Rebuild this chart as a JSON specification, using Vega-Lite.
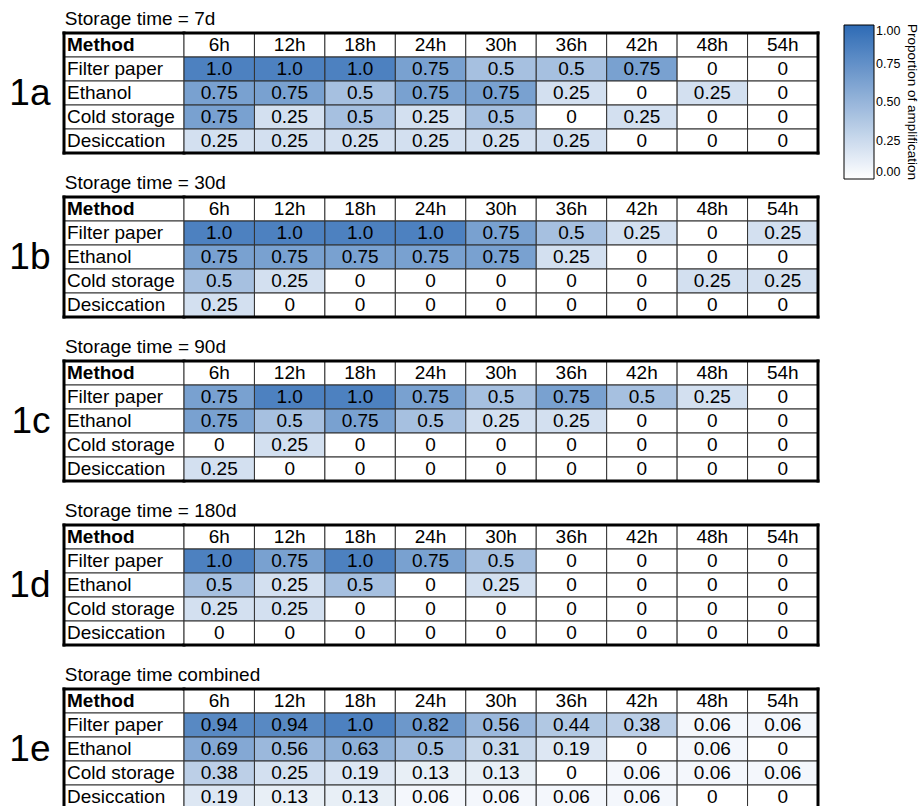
{
  "$schema": "https://vega.github.io/schema/vega-lite/v6.json",
  "background": "white",
  "padding": {"left": 8, "top": 9, "right": 0, "bottom": 0},
  "spacing": 17,
  "datasets": {
    "rowlabels": [{"name": "Method"}, {"name": "Filter paper"}, {"name": "Ethanol"}, {"name": "Cold storage"}, {"name": "Desiccation"}],
    "hours": [{"hour": "6h"}, {"hour": "12h"}, {"hour": "18h"}, {"hour": "24h"}, {"hour": "30h"}, {"hour": "36h"}, {"hour": "42h"}, {"hour": "48h"}, {"hour": "54h"}],
    "one": [{"n": 1}],
    "cells": [
      {"storage": "7d", "method": "Filter paper", "hour": "6h", "value": 1, "label": "1.0"},
      {"storage": "7d", "method": "Filter paper", "hour": "12h", "value": 1, "label": "1.0"},
      {"storage": "7d", "method": "Filter paper", "hour": "18h", "value": 1, "label": "1.0"},
      {"storage": "7d", "method": "Filter paper", "hour": "24h", "value": 0.75, "label": "0.75"},
      {"storage": "7d", "method": "Filter paper", "hour": "30h", "value": 0.5, "label": "0.5"},
      {"storage": "7d", "method": "Filter paper", "hour": "36h", "value": 0.5, "label": "0.5"},
      {"storage": "7d", "method": "Filter paper", "hour": "42h", "value": 0.75, "label": "0.75"},
      {"storage": "7d", "method": "Filter paper", "hour": "48h", "value": 0, "label": "0"},
      {"storage": "7d", "method": "Filter paper", "hour": "54h", "value": 0, "label": "0"},
      {"storage": "7d", "method": "Ethanol", "hour": "6h", "value": 0.75, "label": "0.75"},
      {"storage": "7d", "method": "Ethanol", "hour": "12h", "value": 0.75, "label": "0.75"},
      {"storage": "7d", "method": "Ethanol", "hour": "18h", "value": 0.5, "label": "0.5"},
      {"storage": "7d", "method": "Ethanol", "hour": "24h", "value": 0.75, "label": "0.75"},
      {"storage": "7d", "method": "Ethanol", "hour": "30h", "value": 0.75, "label": "0.75"},
      {"storage": "7d", "method": "Ethanol", "hour": "36h", "value": 0.25, "label": "0.25"},
      {"storage": "7d", "method": "Ethanol", "hour": "42h", "value": 0, "label": "0"},
      {"storage": "7d", "method": "Ethanol", "hour": "48h", "value": 0.25, "label": "0.25"},
      {"storage": "7d", "method": "Ethanol", "hour": "54h", "value": 0, "label": "0"},
      {"storage": "7d", "method": "Cold storage", "hour": "6h", "value": 0.75, "label": "0.75"},
      {"storage": "7d", "method": "Cold storage", "hour": "12h", "value": 0.25, "label": "0.25"},
      {"storage": "7d", "method": "Cold storage", "hour": "18h", "value": 0.5, "label": "0.5"},
      {"storage": "7d", "method": "Cold storage", "hour": "24h", "value": 0.25, "label": "0.25"},
      {"storage": "7d", "method": "Cold storage", "hour": "30h", "value": 0.5, "label": "0.5"},
      {"storage": "7d", "method": "Cold storage", "hour": "36h", "value": 0, "label": "0"},
      {"storage": "7d", "method": "Cold storage", "hour": "42h", "value": 0.25, "label": "0.25"},
      {"storage": "7d", "method": "Cold storage", "hour": "48h", "value": 0, "label": "0"},
      {"storage": "7d", "method": "Cold storage", "hour": "54h", "value": 0, "label": "0"},
      {"storage": "7d", "method": "Desiccation", "hour": "6h", "value": 0.25, "label": "0.25"},
      {"storage": "7d", "method": "Desiccation", "hour": "12h", "value": 0.25, "label": "0.25"},
      {"storage": "7d", "method": "Desiccation", "hour": "18h", "value": 0.25, "label": "0.25"},
      {"storage": "7d", "method": "Desiccation", "hour": "24h", "value": 0.25, "label": "0.25"},
      {"storage": "7d", "method": "Desiccation", "hour": "30h", "value": 0.25, "label": "0.25"},
      {"storage": "7d", "method": "Desiccation", "hour": "36h", "value": 0.25, "label": "0.25"},
      {"storage": "7d", "method": "Desiccation", "hour": "42h", "value": 0, "label": "0"},
      {"storage": "7d", "method": "Desiccation", "hour": "48h", "value": 0, "label": "0"},
      {"storage": "7d", "method": "Desiccation", "hour": "54h", "value": 0, "label": "0"},

      {"storage": "30d", "method": "Filter paper", "hour": "6h", "value": 1, "label": "1.0"},
      {"storage": "30d", "method": "Filter paper", "hour": "12h", "value": 1, "label": "1.0"},
      {"storage": "30d", "method": "Filter paper", "hour": "18h", "value": 1, "label": "1.0"},
      {"storage": "30d", "method": "Filter paper", "hour": "24h", "value": 1, "label": "1.0"},
      {"storage": "30d", "method": "Filter paper", "hour": "30h", "value": 0.75, "label": "0.75"},
      {"storage": "30d", "method": "Filter paper", "hour": "36h", "value": 0.5, "label": "0.5"},
      {"storage": "30d", "method": "Filter paper", "hour": "42h", "value": 0.25, "label": "0.25"},
      {"storage": "30d", "method": "Filter paper", "hour": "48h", "value": 0, "label": "0"},
      {"storage": "30d", "method": "Filter paper", "hour": "54h", "value": 0.25, "label": "0.25"},
      {"storage": "30d", "method": "Ethanol", "hour": "6h", "value": 0.75, "label": "0.75"},
      {"storage": "30d", "method": "Ethanol", "hour": "12h", "value": 0.75, "label": "0.75"},
      {"storage": "30d", "method": "Ethanol", "hour": "18h", "value": 0.75, "label": "0.75"},
      {"storage": "30d", "method": "Ethanol", "hour": "24h", "value": 0.75, "label": "0.75"},
      {"storage": "30d", "method": "Ethanol", "hour": "30h", "value": 0.75, "label": "0.75"},
      {"storage": "30d", "method": "Ethanol", "hour": "36h", "value": 0.25, "label": "0.25"},
      {"storage": "30d", "method": "Ethanol", "hour": "42h", "value": 0, "label": "0"},
      {"storage": "30d", "method": "Ethanol", "hour": "48h", "value": 0, "label": "0"},
      {"storage": "30d", "method": "Ethanol", "hour": "54h", "value": 0, "label": "0"},
      {"storage": "30d", "method": "Cold storage", "hour": "6h", "value": 0.5, "label": "0.5"},
      {"storage": "30d", "method": "Cold storage", "hour": "12h", "value": 0.25, "label": "0.25"},
      {"storage": "30d", "method": "Cold storage", "hour": "18h", "value": 0, "label": "0"},
      {"storage": "30d", "method": "Cold storage", "hour": "24h", "value": 0, "label": "0"},
      {"storage": "30d", "method": "Cold storage", "hour": "30h", "value": 0, "label": "0"},
      {"storage": "30d", "method": "Cold storage", "hour": "36h", "value": 0, "label": "0"},
      {"storage": "30d", "method": "Cold storage", "hour": "42h", "value": 0, "label": "0"},
      {"storage": "30d", "method": "Cold storage", "hour": "48h", "value": 0.25, "label": "0.25"},
      {"storage": "30d", "method": "Cold storage", "hour": "54h", "value": 0.25, "label": "0.25"},
      {"storage": "30d", "method": "Desiccation", "hour": "6h", "value": 0.25, "label": "0.25"},
      {"storage": "30d", "method": "Desiccation", "hour": "12h", "value": 0, "label": "0"},
      {"storage": "30d", "method": "Desiccation", "hour": "18h", "value": 0, "label": "0"},
      {"storage": "30d", "method": "Desiccation", "hour": "24h", "value": 0, "label": "0"},
      {"storage": "30d", "method": "Desiccation", "hour": "30h", "value": 0, "label": "0"},
      {"storage": "30d", "method": "Desiccation", "hour": "36h", "value": 0, "label": "0"},
      {"storage": "30d", "method": "Desiccation", "hour": "42h", "value": 0, "label": "0"},
      {"storage": "30d", "method": "Desiccation", "hour": "48h", "value": 0, "label": "0"},
      {"storage": "30d", "method": "Desiccation", "hour": "54h", "value": 0, "label": "0"},

      {"storage": "90d", "method": "Filter paper", "hour": "6h", "value": 0.75, "label": "0.75"},
      {"storage": "90d", "method": "Filter paper", "hour": "12h", "value": 1, "label": "1.0"},
      {"storage": "90d", "method": "Filter paper", "hour": "18h", "value": 1, "label": "1.0"},
      {"storage": "90d", "method": "Filter paper", "hour": "24h", "value": 0.75, "label": "0.75"},
      {"storage": "90d", "method": "Filter paper", "hour": "30h", "value": 0.5, "label": "0.5"},
      {"storage": "90d", "method": "Filter paper", "hour": "36h", "value": 0.75, "label": "0.75"},
      {"storage": "90d", "method": "Filter paper", "hour": "42h", "value": 0.5, "label": "0.5"},
      {"storage": "90d", "method": "Filter paper", "hour": "48h", "value": 0.25, "label": "0.25"},
      {"storage": "90d", "method": "Filter paper", "hour": "54h", "value": 0, "label": "0"},
      {"storage": "90d", "method": "Ethanol", "hour": "6h", "value": 0.75, "label": "0.75"},
      {"storage": "90d", "method": "Ethanol", "hour": "12h", "value": 0.5, "label": "0.5"},
      {"storage": "90d", "method": "Ethanol", "hour": "18h", "value": 0.75, "label": "0.75"},
      {"storage": "90d", "method": "Ethanol", "hour": "24h", "value": 0.5, "label": "0.5"},
      {"storage": "90d", "method": "Ethanol", "hour": "30h", "value": 0.25, "label": "0.25"},
      {"storage": "90d", "method": "Ethanol", "hour": "36h", "value": 0.25, "label": "0.25"},
      {"storage": "90d", "method": "Ethanol", "hour": "42h", "value": 0, "label": "0"},
      {"storage": "90d", "method": "Ethanol", "hour": "48h", "value": 0, "label": "0"},
      {"storage": "90d", "method": "Ethanol", "hour": "54h", "value": 0, "label": "0"},
      {"storage": "90d", "method": "Cold storage", "hour": "6h", "value": 0, "label": "0"},
      {"storage": "90d", "method": "Cold storage", "hour": "12h", "value": 0.25, "label": "0.25"},
      {"storage": "90d", "method": "Cold storage", "hour": "18h", "value": 0, "label": "0"},
      {"storage": "90d", "method": "Cold storage", "hour": "24h", "value": 0, "label": "0"},
      {"storage": "90d", "method": "Cold storage", "hour": "30h", "value": 0, "label": "0"},
      {"storage": "90d", "method": "Cold storage", "hour": "36h", "value": 0, "label": "0"},
      {"storage": "90d", "method": "Cold storage", "hour": "42h", "value": 0, "label": "0"},
      {"storage": "90d", "method": "Cold storage", "hour": "48h", "value": 0, "label": "0"},
      {"storage": "90d", "method": "Cold storage", "hour": "54h", "value": 0, "label": "0"},
      {"storage": "90d", "method": "Desiccation", "hour": "6h", "value": 0.25, "label": "0.25"},
      {"storage": "90d", "method": "Desiccation", "hour": "12h", "value": 0, "label": "0"},
      {"storage": "90d", "method": "Desiccation", "hour": "18h", "value": 0, "label": "0"},
      {"storage": "90d", "method": "Desiccation", "hour": "24h", "value": 0, "label": "0"},
      {"storage": "90d", "method": "Desiccation", "hour": "30h", "value": 0, "label": "0"},
      {"storage": "90d", "method": "Desiccation", "hour": "36h", "value": 0, "label": "0"},
      {"storage": "90d", "method": "Desiccation", "hour": "42h", "value": 0, "label": "0"},
      {"storage": "90d", "method": "Desiccation", "hour": "48h", "value": 0, "label": "0"},
      {"storage": "90d", "method": "Desiccation", "hour": "54h", "value": 0, "label": "0"},

      {"storage": "180d", "method": "Filter paper", "hour": "6h", "value": 1, "label": "1.0"},
      {"storage": "180d", "method": "Filter paper", "hour": "12h", "value": 0.75, "label": "0.75"},
      {"storage": "180d", "method": "Filter paper", "hour": "18h", "value": 1, "label": "1.0"},
      {"storage": "180d", "method": "Filter paper", "hour": "24h", "value": 0.75, "label": "0.75"},
      {"storage": "180d", "method": "Filter paper", "hour": "30h", "value": 0.5, "label": "0.5"},
      {"storage": "180d", "method": "Filter paper", "hour": "36h", "value": 0, "label": "0"},
      {"storage": "180d", "method": "Filter paper", "hour": "42h", "value": 0, "label": "0"},
      {"storage": "180d", "method": "Filter paper", "hour": "48h", "value": 0, "label": "0"},
      {"storage": "180d", "method": "Filter paper", "hour": "54h", "value": 0, "label": "0"},
      {"storage": "180d", "method": "Ethanol", "hour": "6h", "value": 0.5, "label": "0.5"},
      {"storage": "180d", "method": "Ethanol", "hour": "12h", "value": 0.25, "label": "0.25"},
      {"storage": "180d", "method": "Ethanol", "hour": "18h", "value": 0.5, "label": "0.5"},
      {"storage": "180d", "method": "Ethanol", "hour": "24h", "value": 0, "label": "0"},
      {"storage": "180d", "method": "Ethanol", "hour": "30h", "value": 0.25, "label": "0.25"},
      {"storage": "180d", "method": "Ethanol", "hour": "36h", "value": 0, "label": "0"},
      {"storage": "180d", "method": "Ethanol", "hour": "42h", "value": 0, "label": "0"},
      {"storage": "180d", "method": "Ethanol", "hour": "48h", "value": 0, "label": "0"},
      {"storage": "180d", "method": "Ethanol", "hour": "54h", "value": 0, "label": "0"},
      {"storage": "180d", "method": "Cold storage", "hour": "6h", "value": 0.25, "label": "0.25"},
      {"storage": "180d", "method": "Cold storage", "hour": "12h", "value": 0.25, "label": "0.25"},
      {"storage": "180d", "method": "Cold storage", "hour": "18h", "value": 0, "label": "0"},
      {"storage": "180d", "method": "Cold storage", "hour": "24h", "value": 0, "label": "0"},
      {"storage": "180d", "method": "Cold storage", "hour": "30h", "value": 0, "label": "0"},
      {"storage": "180d", "method": "Cold storage", "hour": "36h", "value": 0, "label": "0"},
      {"storage": "180d", "method": "Cold storage", "hour": "42h", "value": 0, "label": "0"},
      {"storage": "180d", "method": "Cold storage", "hour": "48h", "value": 0, "label": "0"},
      {"storage": "180d", "method": "Cold storage", "hour": "54h", "value": 0, "label": "0"},
      {"storage": "180d", "method": "Desiccation", "hour": "6h", "value": 0, "label": "0"},
      {"storage": "180d", "method": "Desiccation", "hour": "12h", "value": 0, "label": "0"},
      {"storage": "180d", "method": "Desiccation", "hour": "18h", "value": 0, "label": "0"},
      {"storage": "180d", "method": "Desiccation", "hour": "24h", "value": 0, "label": "0"},
      {"storage": "180d", "method": "Desiccation", "hour": "30h", "value": 0, "label": "0"},
      {"storage": "180d", "method": "Desiccation", "hour": "36h", "value": 0, "label": "0"},
      {"storage": "180d", "method": "Desiccation", "hour": "42h", "value": 0, "label": "0"},
      {"storage": "180d", "method": "Desiccation", "hour": "48h", "value": 0, "label": "0"},
      {"storage": "180d", "method": "Desiccation", "hour": "54h", "value": 0, "label": "0"},

      {"storage": "combined", "method": "Filter paper", "hour": "6h", "value": 0.94, "label": "0.94"},
      {"storage": "combined", "method": "Filter paper", "hour": "12h", "value": 0.94, "label": "0.94"},
      {"storage": "combined", "method": "Filter paper", "hour": "18h", "value": 1, "label": "1.0"},
      {"storage": "combined", "method": "Filter paper", "hour": "24h", "value": 0.82, "label": "0.82"},
      {"storage": "combined", "method": "Filter paper", "hour": "30h", "value": 0.56, "label": "0.56"},
      {"storage": "combined", "method": "Filter paper", "hour": "36h", "value": 0.44, "label": "0.44"},
      {"storage": "combined", "method": "Filter paper", "hour": "42h", "value": 0.38, "label": "0.38"},
      {"storage": "combined", "method": "Filter paper", "hour": "48h", "value": 0.06, "label": "0.06"},
      {"storage": "combined", "method": "Filter paper", "hour": "54h", "value": 0.06, "label": "0.06"},
      {"storage": "combined", "method": "Ethanol", "hour": "6h", "value": 0.69, "label": "0.69"},
      {"storage": "combined", "method": "Ethanol", "hour": "12h", "value": 0.56, "label": "0.56"},
      {"storage": "combined", "method": "Ethanol", "hour": "18h", "value": 0.63, "label": "0.63"},
      {"storage": "combined", "method": "Ethanol", "hour": "24h", "value": 0.5, "label": "0.5"},
      {"storage": "combined", "method": "Ethanol", "hour": "30h", "value": 0.31, "label": "0.31"},
      {"storage": "combined", "method": "Ethanol", "hour": "36h", "value": 0.19, "label": "0.19"},
      {"storage": "combined", "method": "Ethanol", "hour": "42h", "value": 0, "label": "0"},
      {"storage": "combined", "method": "Ethanol", "hour": "48h", "value": 0.06, "label": "0.06"},
      {"storage": "combined", "method": "Ethanol", "hour": "54h", "value": 0, "label": "0"},
      {"storage": "combined", "method": "Cold storage", "hour": "6h", "value": 0.38, "label": "0.38"},
      {"storage": "combined", "method": "Cold storage", "hour": "12h", "value": 0.25, "label": "0.25"},
      {"storage": "combined", "method": "Cold storage", "hour": "18h", "value": 0.19, "label": "0.19"},
      {"storage": "combined", "method": "Cold storage", "hour": "24h", "value": 0.13, "label": "0.13"},
      {"storage": "combined", "method": "Cold storage", "hour": "30h", "value": 0.13, "label": "0.13"},
      {"storage": "combined", "method": "Cold storage", "hour": "36h", "value": 0, "label": "0"},
      {"storage": "combined", "method": "Cold storage", "hour": "42h", "value": 0.06, "label": "0.06"},
      {"storage": "combined", "method": "Cold storage", "hour": "48h", "value": 0.06, "label": "0.06"},
      {"storage": "combined", "method": "Cold storage", "hour": "54h", "value": 0.06, "label": "0.06"},
      {"storage": "combined", "method": "Desiccation", "hour": "6h", "value": 0.19, "label": "0.19"},
      {"storage": "combined", "method": "Desiccation", "hour": "12h", "value": 0.13, "label": "0.13"},
      {"storage": "combined", "method": "Desiccation", "hour": "18h", "value": 0.13, "label": "0.13"},
      {"storage": "combined", "method": "Desiccation", "hour": "24h", "value": 0.06, "label": "0.06"},
      {"storage": "combined", "method": "Desiccation", "hour": "30h", "value": 0.06, "label": "0.06"},
      {"storage": "combined", "method": "Desiccation", "hour": "36h", "value": 0.06, "label": "0.06"},
      {"storage": "combined", "method": "Desiccation", "hour": "42h", "value": 0.06, "label": "0.06"},
      {"storage": "combined", "method": "Desiccation", "hour": "48h", "value": 0, "label": "0"},
      {"storage": "combined", "method": "Desiccation", "hour": "54h", "value": 0, "label": "0"}
    ]
  },
  "vconcat": [
    {
      "title": {"text": "Storage time = 7d", "anchor": "start", "frame": "bounds", "dx": 56, "offset": 2, "fontSize": 19, "fontWeight": "normal", "font": "Liberation Sans", "color": "black"},
      "spacing": 0,
      "bounds": "flush",
      "hconcat": [
        {
          "width": 120, "height": 120,
          "layer": [
            {"data": {"name": "rowlabels"}, "mark": {"type": "rect", "fill": "white"},
             "encoding": {"x": {"datum": "Method", "type": "nominal", "scale": {"type": "band", "domain": ["Method"], "paddingInner": 0, "paddingOuter": 0}, "axis": null},
                          "y": {"field": "name", "type": "nominal", "scale": {"type": "band", "domain": ["Method", "Filter paper", "Ethanol", "Cold storage", "Desiccation"], "paddingInner": 0, "paddingOuter": 0}, "axis": {"title": "1a"}}}},
            {"data": {"name": "rowlabels"}, "transform": [{"filter": "datum.name === 'Method'"}], "mark": {"type": "text", "align": "left", "dx": 3, "fontWeight": "bold"},
             "encoding": {"x": {"datum": "Method", "type": "nominal", "bandPosition": 0, "scale": {"type": "band", "domain": ["Method"], "paddingInner": 0, "paddingOuter": 0}, "axis": null},
                          "y": {"field": "name", "type": "nominal", "scale": {"type": "band", "domain": ["Method", "Filter paper", "Ethanol", "Cold storage", "Desiccation"], "paddingInner": 0, "paddingOuter": 0}, "axis": {"title": "1a"}},
                          "text": {"field": "name"}}},
            {"data": {"name": "rowlabels"}, "transform": [{"filter": "datum.name !== 'Method'"}], "mark": {"type": "text", "align": "left", "dx": 3},
             "encoding": {"x": {"datum": "Method", "type": "nominal", "bandPosition": 0, "scale": {"type": "band", "domain": ["Method"], "paddingInner": 0, "paddingOuter": 0}, "axis": null},
                          "y": {"field": "name", "type": "nominal", "scale": {"type": "band", "domain": ["Method", "Filter paper", "Ethanol", "Cold storage", "Desiccation"], "paddingInner": 0, "paddingOuter": 0}, "axis": {"title": "1a"}},
                          "text": {"field": "name"}}},
            {"data": {"name": "one"}, "mark": "rule", "encoding": {"y": {"datum": "Method", "type": "nominal", "bandPosition": 0, "scale": {"type": "band", "domain": ["Method", "Filter paper", "Ethanol", "Cold storage", "Desiccation"], "paddingInner": 0, "paddingOuter": 0}, "axis": {"title": "1a"}}}},
            {"data": {"name": "one"}, "mark": "rule", "encoding": {"y": {"datum": "Desiccation", "type": "nominal", "bandPosition": 1, "scale": {"type": "band", "domain": ["Method", "Filter paper", "Ethanol", "Cold storage", "Desiccation"], "paddingInner": 0, "paddingOuter": 0}, "axis": {"title": "1a"}}}},
            {"data": {"name": "one"}, "mark": "rule", "encoding": {"x": {"datum": "Method", "type": "nominal", "bandPosition": 0, "scale": {"type": "band", "domain": ["Method"], "paddingInner": 0, "paddingOuter": 0}, "axis": null}}}
          ]
        },
        {
          "width": 634, "height": 120,
          "layer": [
            {"data": {"name": "hours"}, "mark": {"type": "rect", "fill": "white"},
             "encoding": {"x": {"field": "hour", "type": "nominal", "scale": {"type": "band", "domain": ["6h", "12h", "18h", "24h", "30h", "36h", "42h", "48h", "54h"], "paddingInner": 0, "paddingOuter": 0}, "axis": null},
                          "y": {"datum": "Method", "type": "nominal", "scale": {"type": "band", "domain": ["Method", "Filter paper", "Ethanol", "Cold storage", "Desiccation"], "paddingInner": 0, "paddingOuter": 0}, "axis": null}}},
            {"data": {"name": "hours"}, "mark": {"type": "text"},
             "encoding": {"x": {"field": "hour", "type": "nominal", "scale": {"type": "band", "domain": ["6h", "12h", "18h", "24h", "30h", "36h", "42h", "48h", "54h"], "paddingInner": 0, "paddingOuter": 0}, "axis": null},
                          "y": {"datum": "Method", "type": "nominal", "scale": {"type": "band", "domain": ["Method", "Filter paper", "Ethanol", "Cold storage", "Desiccation"], "paddingInner": 0, "paddingOuter": 0}, "axis": null},
                          "text": {"field": "hour"}}},
            {"data": {"name": "cells"}, "transform": [{"filter": "datum.storage === '7d'"}], "mark": {"type": "rect", "fillOpacity": 0.85},
             "encoding": {"x": {"field": "hour", "type": "nominal", "scale": {"type": "band", "domain": ["6h", "12h", "18h", "24h", "30h", "36h", "42h", "48h", "54h"], "paddingInner": 0, "paddingOuter": 0}, "axis": null},
                          "y": {"field": "method", "type": "nominal", "scale": {"type": "band", "domain": ["Method", "Filter paper", "Ethanol", "Cold storage", "Desiccation"], "paddingInner": 0, "paddingOuter": 0}, "axis": null},
                          "fill": {"field": "value", "type": "quantitative", "scale": {"domain": [0, 1], "range": ["#ffffff", "#2e6bb5"], "interpolate": "rgb"}, "legend": {"title": "Proportion of amplification", "values": [0, 0.25, 0.5, 0.75, 1], "format": ".2f", "orient": "none", "legendX": 780, "legendY": -8}}}},
            {"data": {"name": "cells"}, "transform": [{"filter": "datum.storage === '7d'"}], "mark": {"type": "text"},
             "encoding": {"x": {"field": "hour", "type": "nominal", "scale": {"type": "band", "domain": ["6h", "12h", "18h", "24h", "30h", "36h", "42h", "48h", "54h"], "paddingInner": 0, "paddingOuter": 0}, "axis": null},
                          "y": {"field": "method", "type": "nominal", "scale": {"type": "band", "domain": ["Method", "Filter paper", "Ethanol", "Cold storage", "Desiccation"], "paddingInner": 0, "paddingOuter": 0}, "axis": null},
                          "text": {"field": "label"}}},
            {"data": {"name": "one"}, "mark": "rule", "encoding": {"y": {"datum": "Method", "type": "nominal", "bandPosition": 0, "scale": {"type": "band", "domain": ["Method", "Filter paper", "Ethanol", "Cold storage", "Desiccation"], "paddingInner": 0, "paddingOuter": 0}, "axis": null}}},
            {"data": {"name": "one"}, "mark": "rule", "encoding": {"y": {"datum": "Desiccation", "type": "nominal", "bandPosition": 1, "scale": {"type": "band", "domain": ["Method", "Filter paper", "Ethanol", "Cold storage", "Desiccation"], "paddingInner": 0, "paddingOuter": 0}, "axis": null}}},
            {"data": {"name": "one"}, "mark": "rule", "encoding": {"x": {"datum": "54h", "type": "nominal", "bandPosition": 1, "scale": {"type": "band", "domain": ["6h", "12h", "18h", "24h", "30h", "36h", "42h", "48h", "54h"], "paddingInner": 0, "paddingOuter": 0}, "axis": null}}}
          ]
        }
      ]
    },
    {
      "title": {"text": "Storage time = 30d", "anchor": "start", "frame": "bounds", "dx": 56, "offset": 2, "fontSize": 19, "fontWeight": "normal", "font": "Liberation Sans", "color": "black"},
      "spacing": 0,
      "bounds": "flush",
      "hconcat": [
        {
          "width": 120, "height": 120,
          "layer": [
            {"data": {"name": "rowlabels"}, "mark": {"type": "rect", "fill": "white"},
             "encoding": {"x": {"datum": "Method", "type": "nominal", "scale": {"type": "band", "domain": ["Method"], "paddingInner": 0, "paddingOuter": 0}, "axis": null},
                          "y": {"field": "name", "type": "nominal", "scale": {"type": "band", "domain": ["Method", "Filter paper", "Ethanol", "Cold storage", "Desiccation"], "paddingInner": 0, "paddingOuter": 0}, "axis": {"title": "1b"}}}},
            {"data": {"name": "rowlabels"}, "transform": [{"filter": "datum.name === 'Method'"}], "mark": {"type": "text", "align": "left", "dx": 3, "fontWeight": "bold"},
             "encoding": {"x": {"datum": "Method", "type": "nominal", "bandPosition": 0, "scale": {"type": "band", "domain": ["Method"], "paddingInner": 0, "paddingOuter": 0}, "axis": null},
                          "y": {"field": "name", "type": "nominal", "scale": {"type": "band", "domain": ["Method", "Filter paper", "Ethanol", "Cold storage", "Desiccation"], "paddingInner": 0, "paddingOuter": 0}, "axis": {"title": "1b"}},
                          "text": {"field": "name"}}},
            {"data": {"name": "rowlabels"}, "transform": [{"filter": "datum.name !== 'Method'"}], "mark": {"type": "text", "align": "left", "dx": 3},
             "encoding": {"x": {"datum": "Method", "type": "nominal", "bandPosition": 0, "scale": {"type": "band", "domain": ["Method"], "paddingInner": 0, "paddingOuter": 0}, "axis": null},
                          "y": {"field": "name", "type": "nominal", "scale": {"type": "band", "domain": ["Method", "Filter paper", "Ethanol", "Cold storage", "Desiccation"], "paddingInner": 0, "paddingOuter": 0}, "axis": {"title": "1b"}},
                          "text": {"field": "name"}}},
            {"data": {"name": "one"}, "mark": "rule", "encoding": {"y": {"datum": "Method", "type": "nominal", "bandPosition": 0, "scale": {"type": "band", "domain": ["Method", "Filter paper", "Ethanol", "Cold storage", "Desiccation"], "paddingInner": 0, "paddingOuter": 0}, "axis": {"title": "1b"}}}},
            {"data": {"name": "one"}, "mark": "rule", "encoding": {"y": {"datum": "Desiccation", "type": "nominal", "bandPosition": 1, "scale": {"type": "band", "domain": ["Method", "Filter paper", "Ethanol", "Cold storage", "Desiccation"], "paddingInner": 0, "paddingOuter": 0}, "axis": {"title": "1b"}}}},
            {"data": {"name": "one"}, "mark": "rule", "encoding": {"x": {"datum": "Method", "type": "nominal", "bandPosition": 0, "scale": {"type": "band", "domain": ["Method"], "paddingInner": 0, "paddingOuter": 0}, "axis": null}}}
          ]
        },
        {
          "width": 634, "height": 120,
          "layer": [
            {"data": {"name": "hours"}, "mark": {"type": "rect", "fill": "white"},
             "encoding": {"x": {"field": "hour", "type": "nominal", "scale": {"type": "band", "domain": ["6h", "12h", "18h", "24h", "30h", "36h", "42h", "48h", "54h"], "paddingInner": 0, "paddingOuter": 0}, "axis": null},
                          "y": {"datum": "Method", "type": "nominal", "scale": {"type": "band", "domain": ["Method", "Filter paper", "Ethanol", "Cold storage", "Desiccation"], "paddingInner": 0, "paddingOuter": 0}, "axis": null}}},
            {"data": {"name": "hours"}, "mark": {"type": "text"},
             "encoding": {"x": {"field": "hour", "type": "nominal", "scale": {"type": "band", "domain": ["6h", "12h", "18h", "24h", "30h", "36h", "42h", "48h", "54h"], "paddingInner": 0, "paddingOuter": 0}, "axis": null},
                          "y": {"datum": "Method", "type": "nominal", "scale": {"type": "band", "domain": ["Method", "Filter paper", "Ethanol", "Cold storage", "Desiccation"], "paddingInner": 0, "paddingOuter": 0}, "axis": null},
                          "text": {"field": "hour"}}},
            {"data": {"name": "cells"}, "transform": [{"filter": "datum.storage === '30d'"}], "mark": {"type": "rect", "fillOpacity": 0.85},
             "encoding": {"x": {"field": "hour", "type": "nominal", "scale": {"type": "band", "domain": ["6h", "12h", "18h", "24h", "30h", "36h", "42h", "48h", "54h"], "paddingInner": 0, "paddingOuter": 0}, "axis": null},
                          "y": {"field": "method", "type": "nominal", "scale": {"type": "band", "domain": ["Method", "Filter paper", "Ethanol", "Cold storage", "Desiccation"], "paddingInner": 0, "paddingOuter": 0}, "axis": null},
                          "fill": {"field": "value", "type": "quantitative", "scale": {"domain": [0, 1], "range": ["#ffffff", "#2e6bb5"], "interpolate": "rgb"}, "legend": {"title": "Proportion of amplification", "values": [0, 0.25, 0.5, 0.75, 1], "format": ".2f", "orient": "none", "legendX": 780, "legendY": -8}}}},
            {"data": {"name": "cells"}, "transform": [{"filter": "datum.storage === '30d'"}], "mark": {"type": "text"},
             "encoding": {"x": {"field": "hour", "type": "nominal", "scale": {"type": "band", "domain": ["6h", "12h", "18h", "24h", "30h", "36h", "42h", "48h", "54h"], "paddingInner": 0, "paddingOuter": 0}, "axis": null},
                          "y": {"field": "method", "type": "nominal", "scale": {"type": "band", "domain": ["Method", "Filter paper", "Ethanol", "Cold storage", "Desiccation"], "paddingInner": 0, "paddingOuter": 0}, "axis": null},
                          "text": {"field": "label"}}},
            {"data": {"name": "one"}, "mark": "rule", "encoding": {"y": {"datum": "Method", "type": "nominal", "bandPosition": 0, "scale": {"type": "band", "domain": ["Method", "Filter paper", "Ethanol", "Cold storage", "Desiccation"], "paddingInner": 0, "paddingOuter": 0}, "axis": null}}},
            {"data": {"name": "one"}, "mark": "rule", "encoding": {"y": {"datum": "Desiccation", "type": "nominal", "bandPosition": 1, "scale": {"type": "band", "domain": ["Method", "Filter paper", "Ethanol", "Cold storage", "Desiccation"], "paddingInner": 0, "paddingOuter": 0}, "axis": null}}},
            {"data": {"name": "one"}, "mark": "rule", "encoding": {"x": {"datum": "54h", "type": "nominal", "bandPosition": 1, "scale": {"type": "band", "domain": ["6h", "12h", "18h", "24h", "30h", "36h", "42h", "48h", "54h"], "paddingInner": 0, "paddingOuter": 0}, "axis": null}}}
          ]
        }
      ]
    },
    {
      "title": {"text": "Storage time = 90d", "anchor": "start", "frame": "bounds", "dx": 54, "offset": 2, "fontSize": 19, "fontWeight": "normal", "font": "Liberation Sans", "color": "black"},
      "spacing": 0,
      "bounds": "flush",
      "hconcat": [
        {
          "width": 120, "height": 120,
          "layer": [
            {"data": {"name": "rowlabels"}, "mark": {"type": "rect", "fill": "white"},
             "encoding": {"x": {"datum": "Method", "type": "nominal", "scale": {"type": "band", "domain": ["Method"], "paddingInner": 0, "paddingOuter": 0}, "axis": null},
                          "y": {"field": "name", "type": "nominal", "scale": {"type": "band", "domain": ["Method", "Filter paper", "Ethanol", "Cold storage", "Desiccation"], "paddingInner": 0, "paddingOuter": 0}, "axis": {"title": "1c"}}}},
            {"data": {"name": "rowlabels"}, "transform": [{"filter": "datum.name === 'Method'"}], "mark": {"type": "text", "align": "left", "dx": 3, "fontWeight": "bold"},
             "encoding": {"x": {"datum": "Method", "type": "nominal", "bandPosition": 0, "scale": {"type": "band", "domain": ["Method"], "paddingInner": 0, "paddingOuter": 0}, "axis": null},
                          "y": {"field": "name", "type": "nominal", "scale": {"type": "band", "domain": ["Method", "Filter paper", "Ethanol", "Cold storage", "Desiccation"], "paddingInner": 0, "paddingOuter": 0}, "axis": {"title": "1c"}},
                          "text": {"field": "name"}}},
            {"data": {"name": "rowlabels"}, "transform": [{"filter": "datum.name !== 'Method'"}], "mark": {"type": "text", "align": "left", "dx": 3},
             "encoding": {"x": {"datum": "Method", "type": "nominal", "bandPosition": 0, "scale": {"type": "band", "domain": ["Method"], "paddingInner": 0, "paddingOuter": 0}, "axis": null},
                          "y": {"field": "name", "type": "nominal", "scale": {"type": "band", "domain": ["Method", "Filter paper", "Ethanol", "Cold storage", "Desiccation"], "paddingInner": 0, "paddingOuter": 0}, "axis": {"title": "1c"}},
                          "text": {"field": "name"}}},
            {"data": {"name": "one"}, "mark": "rule", "encoding": {"y": {"datum": "Method", "type": "nominal", "bandPosition": 0, "scale": {"type": "band", "domain": ["Method", "Filter paper", "Ethanol", "Cold storage", "Desiccation"], "paddingInner": 0, "paddingOuter": 0}, "axis": {"title": "1c"}}}},
            {"data": {"name": "one"}, "mark": "rule", "encoding": {"y": {"datum": "Desiccation", "type": "nominal", "bandPosition": 1, "scale": {"type": "band", "domain": ["Method", "Filter paper", "Ethanol", "Cold storage", "Desiccation"], "paddingInner": 0, "paddingOuter": 0}, "axis": {"title": "1c"}}}},
            {"data": {"name": "one"}, "mark": "rule", "encoding": {"x": {"datum": "Method", "type": "nominal", "bandPosition": 0, "scale": {"type": "band", "domain": ["Method"], "paddingInner": 0, "paddingOuter": 0}, "axis": null}}}
          ]
        },
        {
          "width": 634, "height": 120,
          "layer": [
            {"data": {"name": "hours"}, "mark": {"type": "rect", "fill": "white"},
             "encoding": {"x": {"field": "hour", "type": "nominal", "scale": {"type": "band", "domain": ["6h", "12h", "18h", "24h", "30h", "36h", "42h", "48h", "54h"], "paddingInner": 0, "paddingOuter": 0}, "axis": null},
                          "y": {"datum": "Method", "type": "nominal", "scale": {"type": "band", "domain": ["Method", "Filter paper", "Ethanol", "Cold storage", "Desiccation"], "paddingInner": 0, "paddingOuter": 0}, "axis": null}}},
            {"data": {"name": "hours"}, "mark": {"type": "text"},
             "encoding": {"x": {"field": "hour", "type": "nominal", "scale": {"type": "band", "domain": ["6h", "12h", "18h", "24h", "30h", "36h", "42h", "48h", "54h"], "paddingInner": 0, "paddingOuter": 0}, "axis": null},
                          "y": {"datum": "Method", "type": "nominal", "scale": {"type": "band", "domain": ["Method", "Filter paper", "Ethanol", "Cold storage", "Desiccation"], "paddingInner": 0, "paddingOuter": 0}, "axis": null},
                          "text": {"field": "hour"}}},
            {"data": {"name": "cells"}, "transform": [{"filter": "datum.storage === '90d'"}], "mark": {"type": "rect", "fillOpacity": 0.85},
             "encoding": {"x": {"field": "hour", "type": "nominal", "scale": {"type": "band", "domain": ["6h", "12h", "18h", "24h", "30h", "36h", "42h", "48h", "54h"], "paddingInner": 0, "paddingOuter": 0}, "axis": null},
                          "y": {"field": "method", "type": "nominal", "scale": {"type": "band", "domain": ["Method", "Filter paper", "Ethanol", "Cold storage", "Desiccation"], "paddingInner": 0, "paddingOuter": 0}, "axis": null},
                          "fill": {"field": "value", "type": "quantitative", "scale": {"domain": [0, 1], "range": ["#ffffff", "#2e6bb5"], "interpolate": "rgb"}, "legend": {"title": "Proportion of amplification", "values": [0, 0.25, 0.5, 0.75, 1], "format": ".2f", "orient": "none", "legendX": 780, "legendY": -8}}}},
            {"data": {"name": "cells"}, "transform": [{"filter": "datum.storage === '90d'"}], "mark": {"type": "text"},
             "encoding": {"x": {"field": "hour", "type": "nominal", "scale": {"type": "band", "domain": ["6h", "12h", "18h", "24h", "30h", "36h", "42h", "48h", "54h"], "paddingInner": 0, "paddingOuter": 0}, "axis": null},
                          "y": {"field": "method", "type": "nominal", "scale": {"type": "band", "domain": ["Method", "Filter paper", "Ethanol", "Cold storage", "Desiccation"], "paddingInner": 0, "paddingOuter": 0}, "axis": null},
                          "text": {"field": "label"}}},
            {"data": {"name": "one"}, "mark": "rule", "encoding": {"y": {"datum": "Method", "type": "nominal", "bandPosition": 0, "scale": {"type": "band", "domain": ["Method", "Filter paper", "Ethanol", "Cold storage", "Desiccation"], "paddingInner": 0, "paddingOuter": 0}, "axis": null}}},
            {"data": {"name": "one"}, "mark": "rule", "encoding": {"y": {"datum": "Desiccation", "type": "nominal", "bandPosition": 1, "scale": {"type": "band", "domain": ["Method", "Filter paper", "Ethanol", "Cold storage", "Desiccation"], "paddingInner": 0, "paddingOuter": 0}, "axis": null}}},
            {"data": {"name": "one"}, "mark": "rule", "encoding": {"x": {"datum": "54h", "type": "nominal", "bandPosition": 1, "scale": {"type": "band", "domain": ["6h", "12h", "18h", "24h", "30h", "36h", "42h", "48h", "54h"], "paddingInner": 0, "paddingOuter": 0}, "axis": null}}}
          ]
        }
      ]
    },
    {
      "title": {"text": "Storage time = 180d", "anchor": "start", "frame": "bounds", "dx": 56, "offset": 2, "fontSize": 19, "fontWeight": "normal", "font": "Liberation Sans", "color": "black"},
      "spacing": 0,
      "bounds": "flush",
      "hconcat": [
        {
          "width": 120, "height": 120,
          "layer": [
            {"data": {"name": "rowlabels"}, "mark": {"type": "rect", "fill": "white"},
             "encoding": {"x": {"datum": "Method", "type": "nominal", "scale": {"type": "band", "domain": ["Method"], "paddingInner": 0, "paddingOuter": 0}, "axis": null},
                          "y": {"field": "name", "type": "nominal", "scale": {"type": "band", "domain": ["Method", "Filter paper", "Ethanol", "Cold storage", "Desiccation"], "paddingInner": 0, "paddingOuter": 0}, "axis": {"title": "1d"}}}},
            {"data": {"name": "rowlabels"}, "transform": [{"filter": "datum.name === 'Method'"}], "mark": {"type": "text", "align": "left", "dx": 3, "fontWeight": "bold"},
             "encoding": {"x": {"datum": "Method", "type": "nominal", "bandPosition": 0, "scale": {"type": "band", "domain": ["Method"], "paddingInner": 0, "paddingOuter": 0}, "axis": null},
                          "y": {"field": "name", "type": "nominal", "scale": {"type": "band", "domain": ["Method", "Filter paper", "Ethanol", "Cold storage", "Desiccation"], "paddingInner": 0, "paddingOuter": 0}, "axis": {"title": "1d"}},
                          "text": {"field": "name"}}},
            {"data": {"name": "rowlabels"}, "transform": [{"filter": "datum.name !== 'Method'"}], "mark": {"type": "text", "align": "left", "dx": 3},
             "encoding": {"x": {"datum": "Method", "type": "nominal", "bandPosition": 0, "scale": {"type": "band", "domain": ["Method"], "paddingInner": 0, "paddingOuter": 0}, "axis": null},
                          "y": {"field": "name", "type": "nominal", "scale": {"type": "band", "domain": ["Method", "Filter paper", "Ethanol", "Cold storage", "Desiccation"], "paddingInner": 0, "paddingOuter": 0}, "axis": {"title": "1d"}},
                          "text": {"field": "name"}}},
            {"data": {"name": "one"}, "mark": "rule", "encoding": {"y": {"datum": "Method", "type": "nominal", "bandPosition": 0, "scale": {"type": "band", "domain": ["Method", "Filter paper", "Ethanol", "Cold storage", "Desiccation"], "paddingInner": 0, "paddingOuter": 0}, "axis": {"title": "1d"}}}},
            {"data": {"name": "one"}, "mark": "rule", "encoding": {"y": {"datum": "Desiccation", "type": "nominal", "bandPosition": 1, "scale": {"type": "band", "domain": ["Method", "Filter paper", "Ethanol", "Cold storage", "Desiccation"], "paddingInner": 0, "paddingOuter": 0}, "axis": {"title": "1d"}}}},
            {"data": {"name": "one"}, "mark": "rule", "encoding": {"x": {"datum": "Method", "type": "nominal", "bandPosition": 0, "scale": {"type": "band", "domain": ["Method"], "paddingInner": 0, "paddingOuter": 0}, "axis": null}}}
          ]
        },
        {
          "width": 634, "height": 120,
          "layer": [
            {"data": {"name": "hours"}, "mark": {"type": "rect", "fill": "white"},
             "encoding": {"x": {"field": "hour", "type": "nominal", "scale": {"type": "band", "domain": ["6h", "12h", "18h", "24h", "30h", "36h", "42h", "48h", "54h"], "paddingInner": 0, "paddingOuter": 0}, "axis": null},
                          "y": {"datum": "Method", "type": "nominal", "scale": {"type": "band", "domain": ["Method", "Filter paper", "Ethanol", "Cold storage", "Desiccation"], "paddingInner": 0, "paddingOuter": 0}, "axis": null}}},
            {"data": {"name": "hours"}, "mark": {"type": "text"},
             "encoding": {"x": {"field": "hour", "type": "nominal", "scale": {"type": "band", "domain": ["6h", "12h", "18h", "24h", "30h", "36h", "42h", "48h", "54h"], "paddingInner": 0, "paddingOuter": 0}, "axis": null},
                          "y": {"datum": "Method", "type": "nominal", "scale": {"type": "band", "domain": ["Method", "Filter paper", "Ethanol", "Cold storage", "Desiccation"], "paddingInner": 0, "paddingOuter": 0}, "axis": null},
                          "text": {"field": "hour"}}},
            {"data": {"name": "cells"}, "transform": [{"filter": "datum.storage === '180d'"}], "mark": {"type": "rect", "fillOpacity": 0.85},
             "encoding": {"x": {"field": "hour", "type": "nominal", "scale": {"type": "band", "domain": ["6h", "12h", "18h", "24h", "30h", "36h", "42h", "48h", "54h"], "paddingInner": 0, "paddingOuter": 0}, "axis": null},
                          "y": {"field": "method", "type": "nominal", "scale": {"type": "band", "domain": ["Method", "Filter paper", "Ethanol", "Cold storage", "Desiccation"], "paddingInner": 0, "paddingOuter": 0}, "axis": null},
                          "fill": {"field": "value", "type": "quantitative", "scale": {"domain": [0, 1], "range": ["#ffffff", "#2e6bb5"], "interpolate": "rgb"}, "legend": {"title": "Proportion of amplification", "values": [0, 0.25, 0.5, 0.75, 1], "format": ".2f", "orient": "none", "legendX": 780, "legendY": -8}}}},
            {"data": {"name": "cells"}, "transform": [{"filter": "datum.storage === '180d'"}], "mark": {"type": "text"},
             "encoding": {"x": {"field": "hour", "type": "nominal", "scale": {"type": "band", "domain": ["6h", "12h", "18h", "24h", "30h", "36h", "42h", "48h", "54h"], "paddingInner": 0, "paddingOuter": 0}, "axis": null},
                          "y": {"field": "method", "type": "nominal", "scale": {"type": "band", "domain": ["Method", "Filter paper", "Ethanol", "Cold storage", "Desiccation"], "paddingInner": 0, "paddingOuter": 0}, "axis": null},
                          "text": {"field": "label"}}},
            {"data": {"name": "one"}, "mark": "rule", "encoding": {"y": {"datum": "Method", "type": "nominal", "bandPosition": 0, "scale": {"type": "band", "domain": ["Method", "Filter paper", "Ethanol", "Cold storage", "Desiccation"], "paddingInner": 0, "paddingOuter": 0}, "axis": null}}},
            {"data": {"name": "one"}, "mark": "rule", "encoding": {"y": {"datum": "Desiccation", "type": "nominal", "bandPosition": 1, "scale": {"type": "band", "domain": ["Method", "Filter paper", "Ethanol", "Cold storage", "Desiccation"], "paddingInner": 0, "paddingOuter": 0}, "axis": null}}},
            {"data": {"name": "one"}, "mark": "rule", "encoding": {"x": {"datum": "54h", "type": "nominal", "bandPosition": 1, "scale": {"type": "band", "domain": ["6h", "12h", "18h", "24h", "30h", "36h", "42h", "48h", "54h"], "paddingInner": 0, "paddingOuter": 0}, "axis": null}}}
          ]
        }
      ]
    },
    {
      "title": {"text": "Storage time combined", "anchor": "start", "frame": "bounds", "dx": 56, "offset": 2, "fontSize": 19, "fontWeight": "normal", "font": "Liberation Sans", "color": "black"},
      "spacing": 0,
      "bounds": "flush",
      "hconcat": [
        {
          "width": 120, "height": 120,
          "layer": [
            {"data": {"name": "rowlabels"}, "mark": {"type": "rect", "fill": "white"},
             "encoding": {"x": {"datum": "Method", "type": "nominal", "scale": {"type": "band", "domain": ["Method"], "paddingInner": 0, "paddingOuter": 0}, "axis": null},
                          "y": {"field": "name", "type": "nominal", "scale": {"type": "band", "domain": ["Method", "Filter paper", "Ethanol", "Cold storage", "Desiccation"], "paddingInner": 0, "paddingOuter": 0}, "axis": {"title": "1e"}}}},
            {"data": {"name": "rowlabels"}, "transform": [{"filter": "datum.name === 'Method'"}], "mark": {"type": "text", "align": "left", "dx": 3, "fontWeight": "bold"},
             "encoding": {"x": {"datum": "Method", "type": "nominal", "bandPosition": 0, "scale": {"type": "band", "domain": ["Method"], "paddingInner": 0, "paddingOuter": 0}, "axis": null},
                          "y": {"field": "name", "type": "nominal", "scale": {"type": "band", "domain": ["Method", "Filter paper", "Ethanol", "Cold storage", "Desiccation"], "paddingInner": 0, "paddingOuter": 0}, "axis": {"title": "1e"}},
                          "text": {"field": "name"}}},
            {"data": {"name": "rowlabels"}, "transform": [{"filter": "datum.name !== 'Method'"}], "mark": {"type": "text", "align": "left", "dx": 3},
             "encoding": {"x": {"datum": "Method", "type": "nominal", "bandPosition": 0, "scale": {"type": "band", "domain": ["Method"], "paddingInner": 0, "paddingOuter": 0}, "axis": null},
                          "y": {"field": "name", "type": "nominal", "scale": {"type": "band", "domain": ["Method", "Filter paper", "Ethanol", "Cold storage", "Desiccation"], "paddingInner": 0, "paddingOuter": 0}, "axis": {"title": "1e"}},
                          "text": {"field": "name"}}},
            {"data": {"name": "one"}, "mark": "rule", "encoding": {"y": {"datum": "Method", "type": "nominal", "bandPosition": 0, "scale": {"type": "band", "domain": ["Method", "Filter paper", "Ethanol", "Cold storage", "Desiccation"], "paddingInner": 0, "paddingOuter": 0}, "axis": {"title": "1e"}}}},
            {"data": {"name": "one"}, "mark": "rule", "encoding": {"y": {"datum": "Desiccation", "type": "nominal", "bandPosition": 1, "scale": {"type": "band", "domain": ["Method", "Filter paper", "Ethanol", "Cold storage", "Desiccation"], "paddingInner": 0, "paddingOuter": 0}, "axis": {"title": "1e"}}}},
            {"data": {"name": "one"}, "mark": "rule", "encoding": {"x": {"datum": "Method", "type": "nominal", "bandPosition": 0, "scale": {"type": "band", "domain": ["Method"], "paddingInner": 0, "paddingOuter": 0}, "axis": null}}}
          ]
        },
        {
          "width": 634, "height": 120,
          "layer": [
            {"data": {"name": "hours"}, "mark": {"type": "rect", "fill": "white"},
             "encoding": {"x": {"field": "hour", "type": "nominal", "scale": {"type": "band", "domain": ["6h", "12h", "18h", "24h", "30h", "36h", "42h", "48h", "54h"], "paddingInner": 0, "paddingOuter": 0}, "axis": null},
                          "y": {"datum": "Method", "type": "nominal", "scale": {"type": "band", "domain": ["Method", "Filter paper", "Ethanol", "Cold storage", "Desiccation"], "paddingInner": 0, "paddingOuter": 0}, "axis": null}}},
            {"data": {"name": "hours"}, "mark": {"type": "text"},
             "encoding": {"x": {"field": "hour", "type": "nominal", "scale": {"type": "band", "domain": ["6h", "12h", "18h", "24h", "30h", "36h", "42h", "48h", "54h"], "paddingInner": 0, "paddingOuter": 0}, "axis": null},
                          "y": {"datum": "Method", "type": "nominal", "scale": {"type": "band", "domain": ["Method", "Filter paper", "Ethanol", "Cold storage", "Desiccation"], "paddingInner": 0, "paddingOuter": 0}, "axis": null},
                          "text": {"field": "hour"}}},
            {"data": {"name": "cells"}, "transform": [{"filter": "datum.storage === 'combined'"}], "mark": {"type": "rect", "fillOpacity": 0.85},
             "encoding": {"x": {"field": "hour", "type": "nominal", "scale": {"type": "band", "domain": ["6h", "12h", "18h", "24h", "30h", "36h", "42h", "48h", "54h"], "paddingInner": 0, "paddingOuter": 0}, "axis": null},
                          "y": {"field": "method", "type": "nominal", "scale": {"type": "band", "domain": ["Method", "Filter paper", "Ethanol", "Cold storage", "Desiccation"], "paddingInner": 0, "paddingOuter": 0}, "axis": null},
                          "fill": {"field": "value", "type": "quantitative", "scale": {"domain": [0, 1], "range": ["#ffffff", "#2e6bb5"], "interpolate": "rgb"}, "legend": {"title": "Proportion of amplification", "values": [0, 0.25, 0.5, 0.75, 1], "format": ".2f", "orient": "none", "legendX": 780, "legendY": -8}}}},
            {"data": {"name": "cells"}, "transform": [{"filter": "datum.storage === 'combined'"}], "mark": {"type": "text"},
             "encoding": {"x": {"field": "hour", "type": "nominal", "scale": {"type": "band", "domain": ["6h", "12h", "18h", "24h", "30h", "36h", "42h", "48h", "54h"], "paddingInner": 0, "paddingOuter": 0}, "axis": null},
                          "y": {"field": "method", "type": "nominal", "scale": {"type": "band", "domain": ["Method", "Filter paper", "Ethanol", "Cold storage", "Desiccation"], "paddingInner": 0, "paddingOuter": 0}, "axis": null},
                          "text": {"field": "label"}}},
            {"data": {"name": "one"}, "mark": "rule", "encoding": {"y": {"datum": "Method", "type": "nominal", "bandPosition": 0, "scale": {"type": "band", "domain": ["Method", "Filter paper", "Ethanol", "Cold storage", "Desiccation"], "paddingInner": 0, "paddingOuter": 0}, "axis": null}}},
            {"data": {"name": "one"}, "mark": "rule", "encoding": {"y": {"datum": "Desiccation", "type": "nominal", "bandPosition": 1, "scale": {"type": "band", "domain": ["Method", "Filter paper", "Ethanol", "Cold storage", "Desiccation"], "paddingInner": 0, "paddingOuter": 0}, "axis": null}}},
            {"data": {"name": "one"}, "mark": "rule", "encoding": {"x": {"datum": "54h", "type": "nominal", "bandPosition": 1, "scale": {"type": "band", "domain": ["6h", "12h", "18h", "24h", "30h", "36h", "42h", "48h", "54h"], "paddingInner": 0, "paddingOuter": 0}, "axis": null}}}
          ]
        }
      ]
    }
  ],
  "config": {
    "view": {"stroke": null},
    "rect": {"stroke": "#333333", "strokeWidth": 1},
    "text": {"font": "Liberation Sans", "fontSize": 19, "color": "black", "baseline": "middle"},
    "rule": {"stroke": "black", "strokeWidth": 3, "strokeCap": "square"},
    "axisY": {"labels": false, "ticks": false, "domain": false, "grid": false, "titleAngle": 0, "titleAlign": "right", "titleBaseline": "middle", "titleFontSize": 37, "titleFontWeight": "normal", "titlePadding": 14, "titleFont": "Liberation Sans", "titleColor": "black"},
    "legend": {"padding": 0, "gradientLength": 154, "gradientThickness": 30, "gradientStrokeColor": "black", "gradientStrokeWidth": 1, "labelFont": "Liberation Sans", "labelFontSize": 12.5, "labelColor": "black", "labelOffset": 4, "titleOrient": "right", "titleAnchor": "start", "titleFont": "Liberation Sans", "titleFontSize": 13.5, "titleFontWeight": "normal", "titleColor": "black", "titlePadding": 5}
  }
}
